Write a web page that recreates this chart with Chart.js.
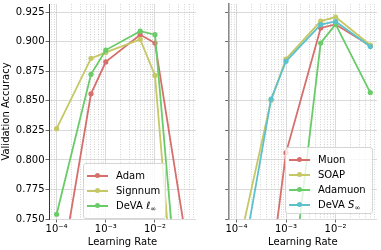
<!DOCTYPE html>
<html><head><meta charset="utf-8">
<script src="https://cdn.jsdelivr.net/npm/chart.js@4.4.1/dist/chart.umd.min.js"></script>
<style>
html,body{margin:0;padding:0;background:#fff;width:381px;height:250px;overflow:hidden;font-family:"DejaVu Sans",sans-serif;}
#wrapL{position:absolute;left:0;top:0;width:200px;height:250px;}
#wrapR{position:absolute;left:200px;top:0;width:181px;height:250px;}
.legend{position:absolute;box-sizing:border-box;border:1px solid #d6d6d6;border-radius:3px;background:rgba(255,255,255,0.8);font-size:10px;color:#000;}
.row{position:absolute;left:0;height:15px;line-height:15px;white-space:nowrap;}
.sample{position:absolute;left:3px;top:7px;width:21px;height:2px;}
.dot{position:absolute;left:8px;top:-1.5px;width:5px;height:5px;border-radius:50%;}
.lab{position:absolute;left:32px;top:0;}
.sub{font-size:7px;vertical-align:-2px;}
</style></head>
<body>
<div id="wrapL"><canvas id="cL" width="200" height="250"></canvas></div>
<div id="wrapR"><canvas id="cR" width="181" height="250"></canvas></div>
<div id="legL" class="legend" style="left:83px;top:163px;width:83px;height:56px;"></div>
<div id="legR" class="legend" style="left:285px;top:147px;width:88px;height:67px;"></div>
<script>
// ---- data ----
const lrLeft = [1e-4, 5e-4, 1e-3, 5e-3, 1e-2, 5e-2];
const adam     = [0.684, 0.856, 0.883, 0.906, 0.899, 0.715];
const signnum  = [0.8265, 0.886, 0.891, 0.902, 0.8715, 0.526];
const devaLinf = [0.754, 0.8725, 0.893, 0.909, 0.906, 0.571];

const lrRight = [1e-4, 5e-4, 1e-3, 5e-3, 1e-2, 5e-2];
const muon     = [null, 0.708, 0.806, 0.9117, 0.9147, 0.8967];
const soap     = [0.718, 0.8505, 0.8854, 0.9175, 0.9209, 0.8973];
const adamuon  = [null, null, 0.652, 0.899, 0.9147, 0.857];
const devaSinf = [0.685, 0.8514, 0.8835, 0.9145, 0.9172, 0.896];

const leftLabels  = ['Adam', 'Signnum', 'DeVA <i>ℓ</i><span class="sub">∞</span>'];
const rightLabels = ['Muon', 'SOAP', 'Adamuon', 'DeVA <i>S</i><span class="sub">∞</span>'];

const yTicks = [0.750, 0.775, 0.800, 0.825, 0.850, 0.875, 0.900, 0.925];
const xMajorTicks = [1e-4, 1e-3, 1e-2];
const xTickLabels = ['10⁻⁴', '10⁻³', '10⁻²'];
const xDecades = [1e-5, 1e-4, 1e-3, 1e-2, 1e-1];
const xMinorMult = [2, 3, 4, 5, 6, 7, 8, 9];

// ---- styles ----
const RED = '#d66f6c', YEL = '#c6c765', GRN = '#6acb69', CYA = '#5dc1cc';
const FONT = {family: '"DejaVu Sans", sans-serif', size: 10};
const X_MIN = Math.pow(10, -4.135), X_MAX = Math.pow(10, -1.166);
const Y_MIN = 0.75, Y_MAX = 0.932;

const gridTicks = [];
xDecades.forEach(d => { gridTicks.push(d); xMinorMult.forEach(m => gridTicks.push(d * m)); });
const xGridTicks = gridTicks.filter(v => v >= X_MIN && v <= X_MAX).sort((a, b) => a - b);
const isMajor = v => xMajorTicks.some(t => Math.abs(Math.log10(v) - Math.log10(t)) < 1e-6);
const majorLabel = v => { const i = xMajorTicks.findIndex(t => Math.abs(Math.log10(v) - Math.log10(t)) < 1e-6); return i >= 0 ? xTickLabels[i] : ''; };
const tickMajor = c => c && c.tick && isMajor(c.tick.value);

function zeroPad(s) { s.paddingTop = 0; s.paddingBottom = 0; s.paddingLeft = 0; s.paddingRight = 0; }

function xScale() {
  return {
    type: 'logarithmic', min: X_MIN, max: X_MAX,
    afterBuildTicks: s => { s.ticks = xGridTicks.map(v => ({value: v, major: isMajor(v)})); },
    afterFit: s => { s.height = 31; zeroPad(s); },
    ticks: {autoSkip: false, maxRotation: 0, minRotation: 0, padding: 1, color: '#000', font: FONT,
      callback: v => majorLabel(v)},
    grid: {color: c => tickMajor(c) ? '#d0d0d0' : '#c8c8c8', lineWidth: 0.8, tickLength: 3.5,
      tickColor: c => tickMajor(c) ? '#444' : 'rgba(0,0,0,0)', tickWidth: 0.8},
    border: {display: false, dash: c => (c && c.tick && !isMajor(c.tick.value)) ? [1, 1.5] : []},
    title: {display: true, text: 'Learning Rate', color: '#000', font: FONT, padding: {top: 0, bottom: 2}}
  };
}
function yScale(showLabels, width, borderColor, borderWidth) {
  return {
    type: 'linear', min: Y_MIN, max: Y_MAX,
    afterBuildTicks: s => { s.ticks = yTicks.map(v => ({value: v})); },
    afterFit: s => { s.width = width; zeroPad(s); },
    ticks: {display: showLabels, padding: 1, color: '#000', font: FONT, callback: v => Number(v).toFixed(3)},
    grid: {color: '#d0d0d0', lineWidth: 0.8, tickLength: 3.5, tickColor: '#444', tickWidth: 0.8},
    border: {display: true, color: borderColor, width: borderWidth},
    title: {display: showLabels, text: 'Validation Accuracy', color: '#000', font: FONT, padding: {top: 0, bottom: 0}}
  };
}
function ds(label, xs, ys, color, i) {
  return {label, data: xs.map((x, k) => ({x, y: ys[k]})), borderColor: color, backgroundColor: color,
    pointBackgroundColor: color, pointBorderColor: color, borderWidth: 1.8, pointRadius: 2.6,
    pointBorderWidth: 0, tension: 0, order: -i};
}
function makeChart(id, datasets, yOpts, padRight) {
  return new Chart(document.getElementById(id), {
    type: 'line',
    data: {datasets},
    options: {
      responsive: false, animation: false, devicePixelRatio: 1,
      layout: {padding: {left: 0, right: padRight, top: 0, bottom: 0}},
      plugins: {legend: {display: false}, tooltip: {enabled: false}},
      scales: {x: xScale(), y: yOpts}
    }
  });
}
const leftSets = [ds('Adam', lrLeft, adam, RED, 0), ds('Signnum', lrLeft, signnum, YEL, 1), ds('DeVA ℓ∞', lrLeft, devaLinf, GRN, 2)];
const rightSets = [ds('Muon', lrRight, muon, RED, 0), ds('SOAP', lrRight, soap, YEL, 1), ds('Adamuon', lrRight, adamuon, GRN, 2), ds('DeVA S∞', lrRight, devaSinf, CYA, 3)];
makeChart('cL', leftSets, yScale(true, 49, '#333', 1), 1.4);
makeChart('cR', rightSets, yScale(false, 28.7, '#8a8a8a', 1.6), 2.4);

function buildLegend(id, labels, colors, top0) {
  const el = document.getElementById(id);
  labels.forEach((lab, i) => {
    const r = document.createElement('div');
    r.className = 'row'; r.style.top = (top0 + i * 15) + 'px'; r.style.width = '100%';
    r.innerHTML = '<div class="sample" style="background:' + colors[i] + '"><div class="dot" style="background:' + colors[i] + '"></div></div><span class="lab">' + lab + '</span>';
    el.appendChild(r);
  });
}
buildLegend('legL', leftLabels, [RED, YEL, GRN], 3.5);
buildLegend('legR', rightLabels, [RED, YEL, GRN, CYA], 3.5);
</script>
</body></html>
